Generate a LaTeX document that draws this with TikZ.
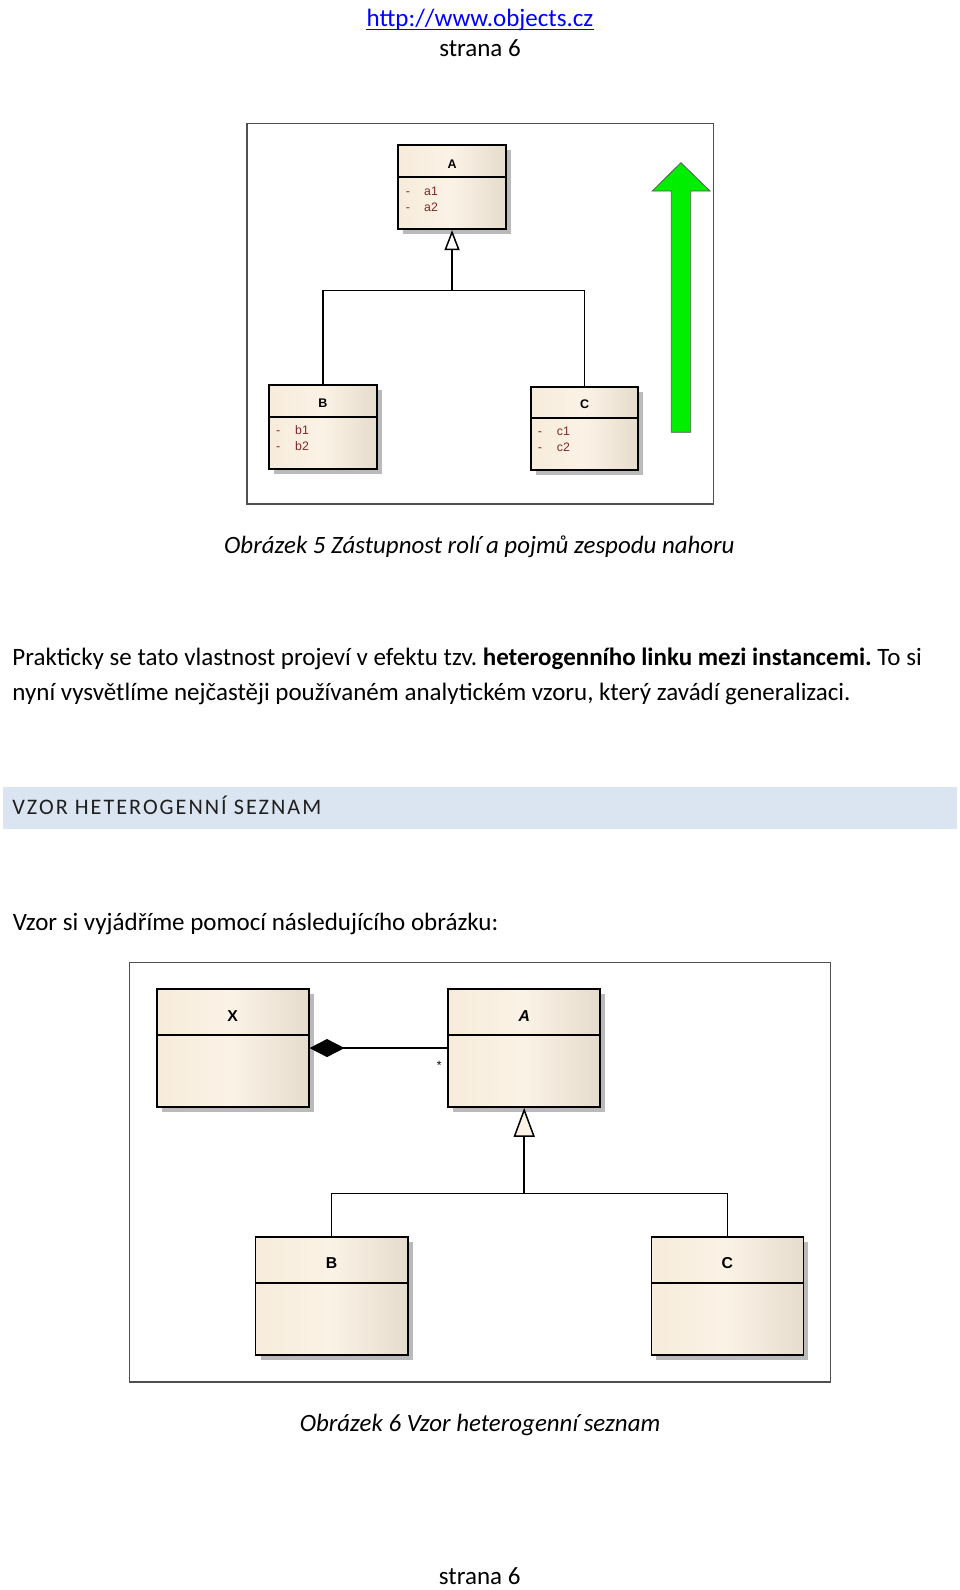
\documentclass[tikz,border=0pt]{standalone}
\usepackage{fontspec}
\setmainfont{Carlito}
\newfontfamily\arialf{Liberation Sans}
\newfontfamily\headfont[LetterSpace=9]{Carlito}
\usetikzlibrary{arrows.meta,shadows}
\definecolor{umlfillA}{HTML}{F7ECDB}
\definecolor{umlfillM}{HTML}{FBF2E6}
\definecolor{umlfillB}{HTML}{E6DCCD}
\definecolor{attrc}{HTML}{7D2828}
\definecolor{bandc}{HTML}{DBE5F1}
\definecolor{framec}{HTML}{505050}
\definecolor{linkc}{HTML}{0000FF}
\definecolor{arrowg}{HTML}{00EE00}
\frenchspacing
\tikzset{
  umlbox/.style={draw=black, line width=1.8pt, left color=umlfillA, right color=umlfillB, middle color=umlfillM,
    drop shadow={shadow xshift=5pt, shadow yshift=-5pt, fill=black!27, opacity=1}, inner sep=0pt, anchor=north west},
  umlsep/.style={draw=black, line width=1.8pt},
  conn/.style={draw=black, line width=1.5pt, line join=miter},
  frame/.style={draw=framec, line width=1.3pt},
  tsmall/.style={font=\arialf\bfseries\fontsize{12.5}{14}\selectfont, inner sep=0pt, text height=9pt, text depth=0pt, anchor=center},
  tbig/.style={font=\arialf\bfseries\fontsize{15.8}{17}\selectfont, inner sep=0pt, text height=11.3pt, text depth=0pt, anchor=center},
  attr/.style={font=\arialf\fontsize{12.3}{14}\selectfont, text=attrc, inner sep=0pt, text height=8.8pt, text depth=0pt, anchor=west},
  bodytext/.style={font=\fontsize{25}{30}\selectfont, inner sep=0pt, anchor=base west},
  captext/.style={font=\itshape\fontsize{24.9}{30}\selectfont, inner sep=0pt, anchor=base},
}
\begin{document}
\begin{tikzpicture}[x=1pt,y=-1pt]
\fill[white] (0,0) rectangle (960,1590);
\useasboundingbox (0,0) rectangle (960,1590);

% header
\node[bodytext, anchor=base, text=linkc] (url) at (480,26) {http://www.objects.cz};
\draw[linkc, line width=1.2pt] ([yshift=-3.3pt]url.base west) -- ([yshift=-3.3pt]url.base east);
\node[bodytext, anchor=base] (pgtop) at (480,56) {strana 6};

% figure 5
\draw[frame] (247,123.3) rectangle (713.8,504);

\node[umlbox, minimum width=107.7pt, minimum height=84pt] (A1) at (397.3,144.3) {};
\draw[umlsep] ([yshift=-33pt]A1.north west) -- ([yshift=-33pt]A1.north east);
\node[tsmall] (A1t) at ([yshift=-19.7pt]A1.north) {A};
\node[attr] (A1d1) at ([xshift=8.4pt,yshift=-46.4pt]A1.north west) {-};
\node[attr] (A1a1) at ([xshift=26.7pt,yshift=-46.4pt]A1.north west) {a1};
\node[attr] (A1d2) at ([xshift=8.4pt,yshift=-62.4pt]A1.north west) {-};
\node[attr] (A1a2) at ([xshift=26.7pt,yshift=-62.4pt]A1.north west) {a2};

\node[umlbox, minimum width=107.4pt, minimum height=83.4pt] (B1) at (268.3,384.3) {};
\draw[umlsep] ([yshift=-32.4pt]B1.north west) -- ([yshift=-32.4pt]B1.north east);
\node[tsmall] (B1t) at ([yshift=-18.7pt]B1.north) {B};
\node[attr] (B1d1) at ([xshift=7.7pt,yshift=-45.7pt]B1.north west) {-};
\node[attr] (B1a1) at ([xshift=26.7pt,yshift=-45.7pt]B1.north west) {b1};
\node[attr] (B1d2) at ([xshift=7.7pt,yshift=-61.7pt]B1.north west) {-};
\node[attr] (B1a2) at ([xshift=26.7pt,yshift=-61.7pt]B1.north west) {b2};

\node[umlbox, minimum width=107.3pt, minimum height=83.3pt] (C1) at (530,385.7) {};
\draw[umlsep] ([yshift=-32pt]C1.north west) -- ([yshift=-32pt]C1.north east);
\node[tsmall] (C1t) at ([yshift=-18.6pt]C1.north) {C};
\node[attr] (C1d1) at ([xshift=7.7pt,yshift=-45pt]C1.north west) {-};
\node[attr] (C1a1) at ([xshift=26.7pt,yshift=-45pt]C1.north west) {c1};
\node[attr] (C1d2) at ([xshift=7.7pt,yshift=-61pt]C1.north west) {-};
\node[attr] (C1a2) at ([xshift=26.7pt,yshift=-61pt]C1.north west) {c2};

\coordinate (J1) at (A1.south |- 0,290.7);
\draw[conn] (B1.north) |- (J1) -| (C1.north);
\draw[conn, -{Triangle[length=20pt,width=15pt,fill=white,line width=1.5pt]}] (J1) -- (A1.south);

\fill[arrowg, draw=black!65, line width=0.8pt]
  (671.3,432.3) -- (671.3,191) -- (652.3,191) -- (680.9,162.7) -- (710,191) -- (690.7,191) -- (690.7,432.3) -- cycle;

\node[captext] (cap5) at (479.4,553.4) {Obrázek 5 Zástupnost rolí a pojmů zespodu nahoru};

% paragraph
\node[bodytext] (p1) at (12.2,665) {\makebox[909.4pt][s]{Prakticky se tato vlastnost projeví v efektu tzv. \textbf{heterogenního linku mezi instancemi.} To si}};
\node[bodytext] (p2) at (12.2,700) {nyní vysvětlíme nejčastěji používaném analytickém vzoru, který zavádí generalizaci.};

% heading band
\fill[bandc] (3,786.7) rectangle (957,829.3);
\node[inner sep=0pt, anchor=base west, text=black!88, font=\headfont\fontsize{22.2}{26}\selectfont] (head) at (12.2,814) {VZOR HETEROGENNÍ SEZNAM};

\node[bodytext] (p3) at (12.6,930) {Vzor si vyjádříme pomocí následujícího obrázku:};

% figure 6
\draw[frame] (129.5,962.7) rectangle (830.3,1382);

\node[umlbox, minimum width=152pt, minimum height=117.7pt] (X2) at (155.7,988.3) {};
\draw[umlsep] ([yshift=-47pt]X2.north west) -- ([yshift=-47pt]X2.north east);
\node[tbig] (X2t) at ([yshift=-27.2pt]X2.north) {X};

\node[umlbox, minimum width=152pt, minimum height=117.7pt] (A2) at (447.3,988.3) {};
\draw[umlsep] ([yshift=-47pt]A2.north west) -- ([yshift=-47pt]A2.north east);
\node[tbig] (A2t) at ([yshift=-27.2pt]A2.north) {\itshape A};

\node[umlbox, minimum width=152.2pt, minimum height=118.3pt] (B2) at (254.6,1235.7) {};
\draw[umlsep] ([yshift=-47pt]B2.north west) -- ([yshift=-47pt]B2.north east);
\node[tbig] (B2t) at ([yshift=-27pt]B2.north) {B};

\node[umlbox, minimum width=152pt, minimum height=118.3pt] (C2) at (650.5,1235.7) {};
\draw[umlsep] ([yshift=-47pt]C2.north west) -- ([yshift=-47pt]C2.north east);
\node[tbig] (C2t) at ([yshift=-27pt]C2.north) {C};

\draw[conn, {Diamond[length=35pt,width=18pt,line width=1pt]}-] (X2.east) -- (A2.west);
\node[font=\arialf\fontsize{12}{14}\selectfont, inner sep=0pt] (mult) at (439.3,1065) {*};

\coordinate (J2) at (A2.south |- 0,1193.3);
\draw[conn] (B2.north) |- (J2) -| (C2.north);
\draw[conn, -{Triangle[length=29pt,width=21pt,fill=umlfillM,line width=1.5pt]}] (J2) -- (A2.south);

\node[captext] (cap6) at (480,1431.7) {Obrázek 6 Vzor heterogenní seznam};
\node[bodytext, anchor=base] (pgbot) at (479.7,1584.5) {strana 6};
\end{tikzpicture}
\end{document}
